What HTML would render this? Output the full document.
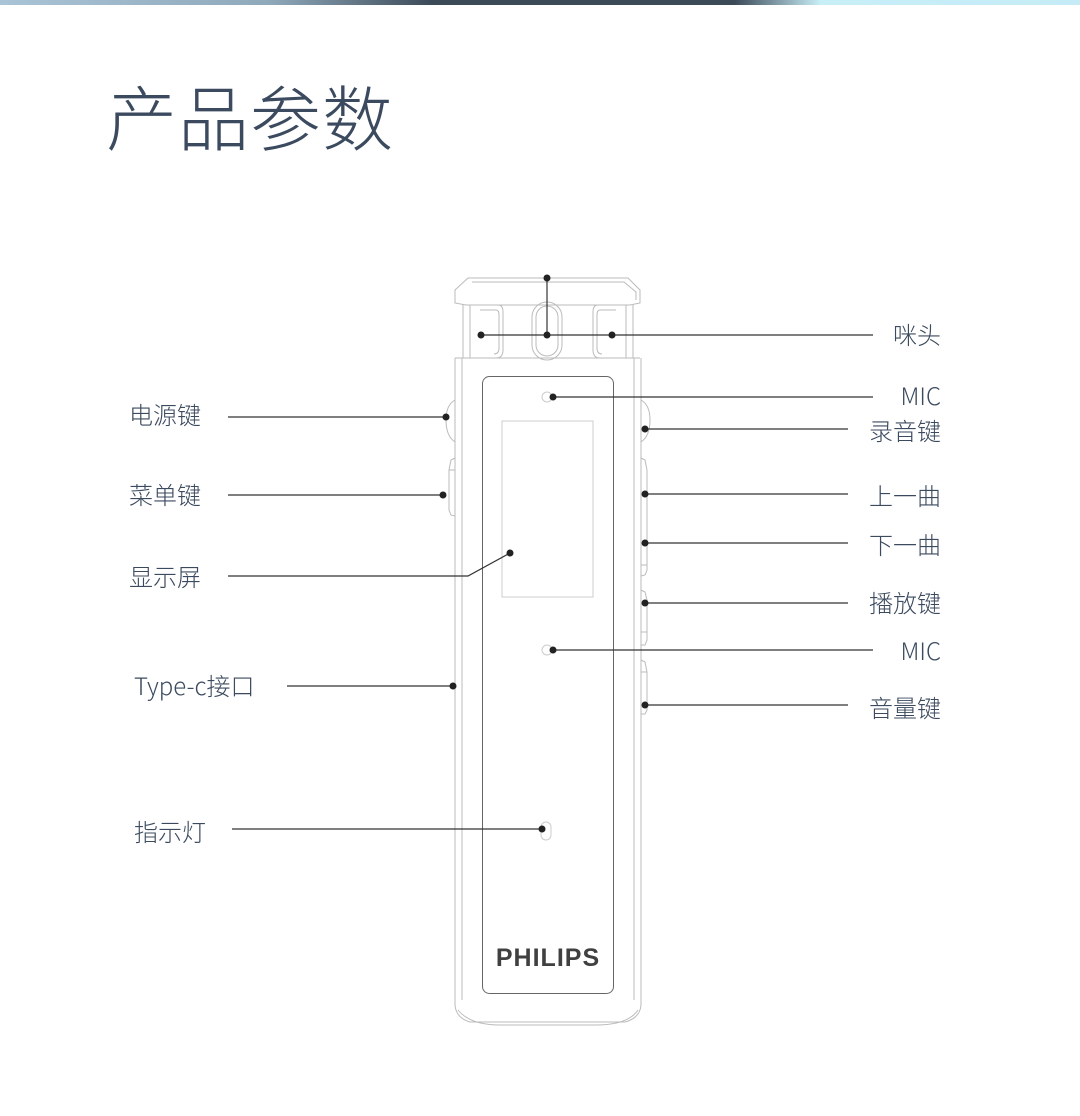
<!DOCTYPE html>
<html><head><meta charset="utf-8"><style>
html,body{margin:0;padding:0;background:#fff;}
body{width:1080px;height:1111px;overflow:hidden;}
svg text{font-family:"Noto Sans CJK SC",sans-serif;font-weight:300;fill:#3b4a5e;}
</style></head><body>
<svg width="1080" height="1111" viewBox="0 0 1080 1111" xmlns="http://www.w3.org/2000/svg">
<defs>
<linearGradient id="g" x1="0" x2="1" y1="0" y2="0">
<stop offset="0" stop-color="#a9c4d6"/><stop offset="0.25" stop-color="#8fa9bb"/>
<stop offset="0.4" stop-color="#3c4a58"/><stop offset="0.68" stop-color="#3c4a58"/>
<stop offset="0.76" stop-color="#c8eef8"/><stop offset="1" stop-color="#c5ecf6"/>
</linearGradient>
</defs>
<rect x="0" y="0" width="1080" height="5" fill="url(#g)"/>
<text x="106" y="145" font-size="71" style="letter-spacing:1px">产品参数</text>

<g fill="none" stroke="#bbb" stroke-width="1">
<path d="M468 278 L628 278 L640 290 L640 303 L630 305 L466 305 L455 303 L455 290 Z"/>
<path d="M472 282 L624 282 L636 292 L636 300"/>
<path d="M463 305 L463 358 M470 305 L470 358 M633 305 L633 358 M626 305 L626 358"/>
<path d="M476 305 L498 305 Q503 305 503 312 L503 350 Q503 358 496 358 L476 358"/>
<path d="M480 310 L496 310 Q499 310 499 315 L499 348 Q499 354 494 354"/>
<rect x="532" y="302" width="30" height="58" rx="15"/>
<rect x="536" y="306" width="22" height="50" rx="11"/>
<path d="M620 305 L598 305 Q593 305 593 312 L593 350 Q593 358 600 358 L620 358"/>
<path d="M616 310 L600 310 Q597 310 597 315 L597 348 Q597 354 602 354"/>
<path d="M455 358 L640 358"/>
<path d="M455 358 L455 1005 Q456 1018 470 1022 L625 1022 Q640 1018 641 1005 L641 358"/>
<path d="M462 358 L462 1000 M634 358 L634 1000"/>
<path d="M458 1010 Q470 1025 500 1025 L596 1025 Q628 1025 638 1010"/>
<path d="M455 400 Q446 405 446 420 Q446 436 455 442"/>
<path d="M455 458 L451 460 L449 470 L449 510 L451 515 L455 516 M449 470 L455 470"/>
<path d="M641 400 Q650 405 650 420 Q650 436 641 442"/>
<path d="M641 458 L645 460 L647 470 L647 570 L645 575 L641 576 M641 565 L647 565"/>
<path d="M641 590 L645 592 L647 600 L647 640 L645 645 L641 645 M641 632 L647 632"/>
<path d="M641 660 L645 662 L647 672 L647 710 L645 714 L641 714 M641 672 L647 672"/>
<rect x="502" y="421" width="91" height="176" stroke="#ccc"/>
<circle cx="547" cy="397" r="5" stroke="#ccc"/>
<circle cx="547" cy="650" r="5" stroke="#ccc"/>
<rect x="541" y="822" width="10" height="18" rx="5" stroke="#ccc"/>
</g>
<rect x="482.5" y="376.5" width="131" height="617" rx="7" fill="none" stroke="#666" stroke-width="1"/>
<text x="548" y="966" text-anchor="middle" font-size="25" style="font-family:'Liberation Sans',sans-serif;font-weight:bold;fill:#404040;letter-spacing:1px">PHILIPS</text>

<g stroke="#333" stroke-width="1.2" fill="none">
<path d="M547 278 L547 335"/>
<path d="M481 335 L873 335"/>
<path d="M553 397 L873 397"/>
<path d="M645 429 L848 429"/>
<path d="M645 494 L848 494"/>
<path d="M645 543 L848 543"/>
<path d="M645 603 L848 603"/>
<path d="M553 650 L873 650"/>
<path d="M645 705 L848 705"/>
<path d="M228 417 L446 417"/>
<path d="M228 495 L443 495"/>
<path d="M228 576 L468 576 L510 553"/>
<path d="M287 686 L452 686"/>
<path d="M232 829 L542 829"/>
</g>
<g fill="#222">
<circle cx="547" cy="278" r="3.5"/><circle cx="547" cy="335" r="3.5"/>
<circle cx="481" cy="335" r="3.5"/><circle cx="612" cy="335" r="3.5"/>
<circle cx="553" cy="397" r="3.5"/><circle cx="645" cy="429" r="3.5"/>
<circle cx="645" cy="494" r="3.5"/><circle cx="645" cy="543" r="3.5"/>
<circle cx="645" cy="603" r="3.5"/><circle cx="553" cy="650" r="3.5"/>
<circle cx="645" cy="705" r="3.5"/><circle cx="446" cy="417" r="3.5"/>
<circle cx="443" cy="495" r="3.5"/><circle cx="510" cy="553" r="3.5"/>
<circle cx="453" cy="686" r="3.5"/><circle cx="542" cy="829" r="3.5"/>
</g>
<g font-size="24">
<text x="129" y="424">电源键</text>
<text x="129" y="504">菜单键</text>
<text x="129" y="586">显示屏</text>
<text x="134" y="695">Type-c接口</text>
<text x="134" y="841">指示灯</text>
<g text-anchor="end">
<text x="941" y="344">咪头</text>
<text x="941" y="405">MIC</text>
<text x="941" y="440">录音键</text>
<text x="941" y="505">上一曲</text>
<text x="941" y="554">下一曲</text>
<text x="941" y="612">播放键</text>
<text x="941" y="660">MIC</text>
<text x="941" y="717">音量键</text>
</g>
</g>
</svg>
</body></html>
